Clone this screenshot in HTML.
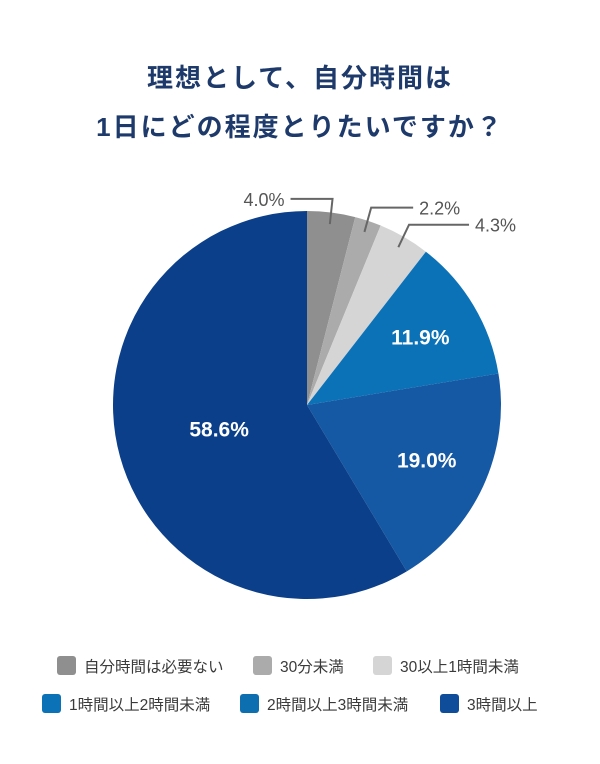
<!DOCTYPE html>
<html><head><meta charset="utf-8"><style>
body{margin:0;width:600px;height:759px;background:#fff;overflow:hidden;font-family:"Liberation Sans","Noto Sans CJK JP",sans-serif}
</style></head><body>
<svg width="600" height="759">
<g font-family="Liberation Sans, Noto Sans CJK JP, sans-serif">
<text x="300" y="87" text-anchor="middle" font-size="26" font-weight="bold" fill="#1d3a6b" letter-spacing="2">理想として、自分時間は</text>
<text x="300" y="136" text-anchor="middle" font-size="26" font-weight="bold" fill="#1d3a6b" letter-spacing="2">1日にどの程度とりたいですか？</text>
<g id="slices"></g>
<g id="labels"></g>
<g id="legend"></g>
</g>
</svg>
<script>
const categories=["自分時間は必要ない","30分未満","30以上1時間未満","1時間以上2時間未満","2時間以上3時間未満","3時間以上"];
const values=[4.0,2.2,4.3,11.9,19.0,58.6];
const labels=["4.0%","2.2%","4.3%","11.9%","19.0%","58.6%"];
const colors=["#8f8f8f","#ababab","#d5d5d5","#0b72b7","#1558a3","#0c3f89"];
const legendColors=["#8f8f8f","#ababab","#d5d5d5","#0b72b7","#0d6fb0","#0f4d9b"];
const NS="http://www.w3.org/2000/svg";
const cx=307,cy=405,r=194;
const total=values.reduce((a,b)=>a+b,0);
function pt(frac,rad){const a=frac*2*Math.PI-Math.PI/2;return [cx+rad*Math.cos(a),cy+rad*Math.sin(a)];}
const gs=document.getElementById('slices'),gl=document.getElementById('labels'),gg=document.getElementById('legend');
let acc=0;
values.forEach((v,i)=>{
 const f0=acc/total,f1=(acc+v)/total;acc+=v;
 const [x0,y0]=pt(f0,r),[x1,y1]=pt(f1,r);
 const p=document.createElementNS(NS,'path');
 p.setAttribute('d',`M${cx},${cy}L${x0},${y0}A${r},${r} 0 ${f1-f0>0.5?1:0} 1 ${x1},${y1}Z`);
 p.setAttribute('fill',colors[i]);
 
 
 gs.appendChild(p);
 const fm=(f0+f1)/2;
 const t=document.createElementNS(NS,'text');
 if(i>=3){
  const [lx,ly]=pt(fm,i==5?0.47*r:0.68*r);
  t.setAttribute('x',lx);t.setAttribute('y',ly+7);
  t.setAttribute('text-anchor','middle');t.setAttribute('fill','#fff');
  t.setAttribute('font-size','21');t.setAttribute('font-weight','bold');
 } else {
  const [ax,ay]=pt(fm,r*0.94);
  const [bx,by]=pt(fm,r*1.05);
  const ly=by-4;
  let ex,tx,anchor;
  if(i==0){ex=bx-42;tx=ex-6;anchor='end';}
  else{ex=bx+42+(i==2?18:0);tx=ex+6;anchor='start';}
  const l=document.createElementNS(NS,'polyline');
  l.setAttribute('points',`${ax},${ay} ${bx},${ly} ${ex},${ly}`);
  l.setAttribute('fill','none');l.setAttribute('stroke','#666');l.setAttribute('stroke-width','2');
  
  
  gl.appendChild(l);
  t.setAttribute('x',tx);t.setAttribute('y',ly+7);t.setAttribute('text-anchor',anchor);
  t.setAttribute('fill','#555');t.setAttribute('font-size','18');
 }
 t.textContent=labels[i];
 
 
 gl.appendChild(t);
});
const lx=[57,253,373,42,240,440],ly=[656,656,656,694,694,694];
categories.forEach((c,i)=>{
 const s=document.createElementNS(NS,'rect');
 s.setAttribute('x',lx[i]);s.setAttribute('y',ly[i]);s.setAttribute('width',19);s.setAttribute('height',19);s.setAttribute('rx',3);
 s.setAttribute('fill',legendColors[i]);
 
 
 gg.appendChild(s);
 const t=document.createElementNS(NS,'text');
 t.setAttribute('x',lx[i]+27);t.setAttribute('y',ly[i]+16);t.setAttribute('font-size','15.5');t.setAttribute('fill','#3a3a3a');
 t.textContent=c;
 
 
 gg.appendChild(t);
});
</script>
</body></html>
